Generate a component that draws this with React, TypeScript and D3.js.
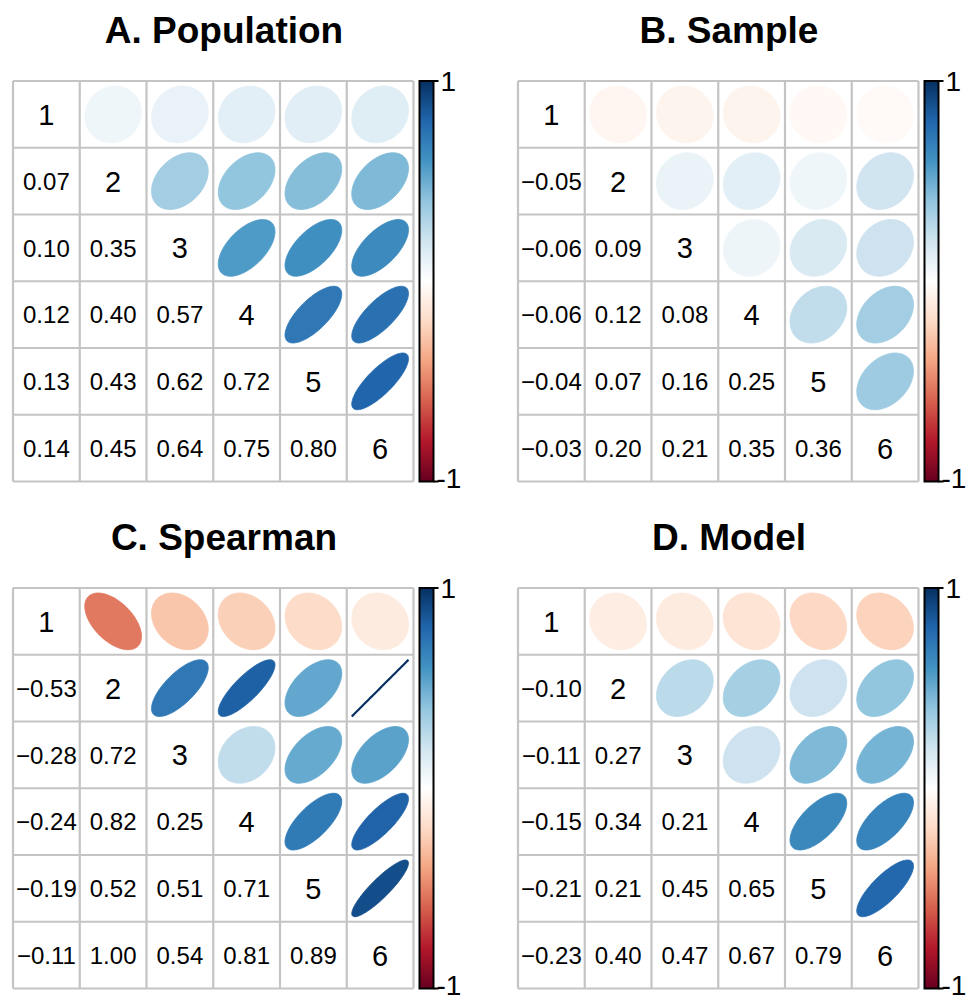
import React from "react";
import * as d3 from "d3";

// ---- data ----
const varLabels = ["1", "2", "3", "4", "5", "6"];
const panelTitles = ["A. Population", "B. Sample", "C. Spearman", "D. Model"];

// lower triangle, row by row (row 2: [r21], row 3: [r31, r32], ...)
const populationCor = [
  [0.07],
  [0.10, 0.35],
  [0.12, 0.40, 0.57],
  [0.13, 0.43, 0.62, 0.72],
  [0.14, 0.45, 0.64, 0.75, 0.80],
];
const sampleCor = [
  [-0.05],
  [-0.06, 0.09],
  [-0.06, 0.12, 0.08],
  [-0.04, 0.07, 0.16, 0.25],
  [-0.03, 0.20, 0.21, 0.35, 0.36],
];
const spearmanCor = [
  [-0.53],
  [-0.28, 0.72],
  [-0.24, 0.82, 0.25],
  [-0.19, 0.52, 0.51, 0.71],
  [-0.11, 1.00, 0.54, 0.81, 0.89],
];
const modelCor = [
  [-0.10],
  [-0.11, 0.27],
  [-0.15, 0.34, 0.21],
  [-0.21, 0.21, 0.45, 0.65],
  [-0.23, 0.40, 0.47, 0.67, 0.79],
];

const colorbarTicks = [1, -1];

const rdbu = [
  "#67001F", "#B2182B", "#D6604D", "#F4A582", "#FDDBC7", "#FFFFFF",
  "#D1E5F0", "#92C5DE", "#4393C3", "#2166AC", "#053061",
];

const FONT = "'Liberation Sans', Arial, Helvetica, sans-serif";

const colorScale = d3
  .scaleLinear<string>()
  .domain(d3.range(rdbu.length).map((i) => -1 + (2 * i) / (rdbu.length - 1)))
  .range(rdbu)
  .interpolate(d3.interpolateRgb);

function fmt(v: number) {
  return d3.format(".2f")(v).replace("-", "\u2212");
}

function fullMatrix(lower: number[][]) {
  const n = lower.length + 1;
  const m: number[][] = [];
  for (let i = 0; i < n; i++) {
    m.push([]);
    for (let j = 0; j < n; j++) {
      if (i === j) m[i].push(1);
      else if (i > j) m[i].push(lower[i - 1][j]);
      else m[i].push(lower[j - 1][i]);
    }
  }
  return m;
}

const lineGen = d3.line<[number, number]>().curve(d3.curveLinearClosed);

function ellipsePath(rho: number, cx: number, cy: number, size: number) {
  const a = Math.acos(Math.max(-1, Math.min(1, rho)));
  const pts: [number, number][] = d3.range(100).map((i) => {
    const k = (i / 100) * 2 * Math.PI;
    const x = (0.85 * Math.cos(k + a / 2)) / 2;
    const y = (0.85 * Math.cos(k - a / 2)) / 2;
    return [cx + x * size, cy - y * size];
  });
  return lineGen(pts) as string;
}

function CorrPanel({
  title,
  lower,
  x0,
  y0,
  id,
}: {
  title: string;
  lower: number[][];
  x0: number;
  y0: number;
  id: string;
}) {
  const m = fullMatrix(lower);
  const n = m.length;
  const gridW = 400.5;
  const band = d3.scaleBand<string>().domain(varLabels).range([0, gridW]);
  const cs = band.bandwidth();
  const barX = gridW + 6;
  const barW = 14;
  const barScale = d3.scaleLinear().domain([-1, 1]).range([gridW, 0]);
  const gradId = "grad-" + id;
  return (
    <g transform={`translate(${x0},${y0})`}>
      <text
        x={211}
        y={-38}
        textAnchor="middle"
        fontFamily={FONT}
        fontWeight="bold"
        fontSize={37}
        fill="#000"
      >
        {title}
      </text>
      {/* cells */}
      {m.map((row, i) =>
        row.map((v, j) => {
          const cx = (band(varLabels[j]) as number) + cs / 2;
          const cy = (band(varLabels[i]) as number) + cs / 2;
          if (j > i) {
            const c = colorScale(v);
            return (
              <path
                key={`e${i}-${j}`}
                d={ellipsePath(v, cx, cy, cs)}
                fill={c}
                stroke={c}
                strokeWidth={Math.abs(v) > 0.995 ? 2.2 : 0.8}
              />
            );
          }
          if (i === j) {
            return (
              <text
                key={`d${i}`}
                x={cx}
                y={cy}
                dy="0.36em"
                textAnchor="middle"
                fontFamily={FONT}
                fontSize={29}
                fill="#000"
              >
                {varLabels[i]}
              </text>
            );
          }
          return (
            <text
              key={`t${i}-${j}`}
              x={cx}
              y={cy}
              dy="0.36em"
              textAnchor="middle"
              fontFamily={FONT}
              fontSize={24}
              fill="#000"
            >
              {fmt(v)}
            </text>
          );
        })
      )}
      {/* grid */}
      {d3.range(n + 1).map((k) => (
        <g key={`g${k}`}>
          <line
            x1={k * cs}
            x2={k * cs}
            y1={0}
            y2={gridW}
            stroke="#C4C4C4"
            strokeWidth={2.2}
          />
          <line
            x1={0}
            x2={gridW}
            y1={k * cs}
            y2={k * cs}
            stroke="#C4C4C4"
            strokeWidth={2.2}
          />
        </g>
      ))}
      {/* colorbar */}
      <defs>
        <linearGradient id={gradId} x1="0" y1="1" x2="0" y2="0">
          {rdbu.map((c, i) => (
            <stop key={i} offset={i / (rdbu.length - 1)} stopColor={c} />
          ))}
        </linearGradient>
      </defs>
      <rect
        x={barX}
        y={0}
        width={barW}
        height={gridW}
        fill={`url(#${gradId})`}
        stroke="#000"
        strokeWidth={2}
      />
      {colorbarTicks.map((t) => (
        <g key={`tk${t}`}>
          <line
            x1={barX + barW}
            x2={barX + barW + 5}
            y1={barScale(t)}
            y2={barScale(t)}
            stroke="#000"
            strokeWidth={2}
          />
          <text
            x={t < 0 ? barX + barW + 3 : barX + barW + 7}
            y={t < 0 ? barScale(t) - 4 : barScale(t)}
            dy="0.36em"
            fontFamily={FONT}
            fontSize={28}
            fill="#000"
          >
            {t < 0 ? "-1" : "1"}
          </text>
        </g>
      ))}
    </g>
  );
}

export default function App() {
  const panels = [
    { title: panelTitles[0], lower: populationCor, x0: 13, y0: 81 },
    { title: panelTitles[1], lower: sampleCor, x0: 518, y0: 81 },
    { title: panelTitles[2], lower: spearmanCor, x0: 13, y0: 588 },
    { title: panelTitles[3], lower: modelCor, x0: 518, y0: 588 },
  ];
  return (
    <svg
      width={973}
      height={997}
      style={{ position: "absolute", left: 0, top: 0, background: "#fff" }}
    >
      <rect width={973} height={997} fill="#fff" />
      {panels.map((p, i) => (
        <CorrPanel key={i} id={String(i)} {...p} />
      ))}
    </svg>
  );
}
